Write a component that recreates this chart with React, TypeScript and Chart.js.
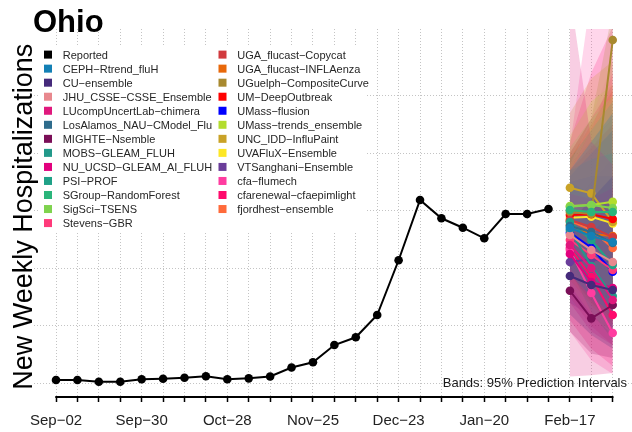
import React, { useEffect, useRef } from 'react';
import { Chart, registerables } from 'chart.js';

Chart.register(...registerables);

// ---------- data ----------
const allWeeks = [0, 1, 2, 3, 4, 5, 6, 7, 8, 9, 10, 11, 12, 13, 14, 15, 16, 17, 18, 19, 20, 21, 22, 23, 24, 25, 26];
const labelWeeks = [0, 4, 8, 12, 16, 20, 24];
const weekTickLabels = ['Sep−02', 'Sep−30', 'Oct−28', 'Nov−25', 'Dec−23', 'Jan−20', 'Feb−17'];
const yGridValues = [0, 500, 1000, 1500, 2000, 2500];

const reportedWeeks = [0, 1, 2, 3, 4, 5, 6, 7, 8, 9, 10, 11, 12, 13, 14, 15, 16, 17, 18, 19, 20, 21, 22, 23];
const reported = [29, 29, 14, 14, 35, 40, 49, 61, 35, 43, 59, 137, 183, 333, 400, 594, 1070, 1594, 1435, 1353, 1261, 1472, 1472, 1516];

const forecastWeeks = [24, 25, 26];

const modelNames = [
  'CEPH−Rtrend_fluH',
  'CU−ensemble',
  'JHU_CSSE−CSSE_Ensemble',
  'LUcompUncertLab−chimera',
  'LosAlamos_NAU−CModel_Flu',
  'MIGHTE−Nsemble',
  'MOBS−GLEAM_FLUH',
  'NU_UCSD−GLEAM_AI_FLUH',
  'PSI−PROF',
  'SGroup−RandomForest',
  'SigSci−TSENS',
  'Stevens−GBR',
  'UGA_flucast−Copycat',
  'UGA_flucast−INFLAenza',
  'UGuelph−CompositeCurve',
  'UM−DeepOutbreak',
  'UMass−flusion',
  'UMass−trends_ensemble',
  'UNC_IDD−InfluPaint',
  'UVAFluX−Ensemble',
  'VTSanghani−Ensemble',
  'cfa−flumech',
  'cfarenewal−cfaepimlight',
  'fjordhest−ensemble',
];

const modelColors = [
  '#1380B5', '#452A7B', '#E8888E', '#E0187D', '#2E6C8C', '#7A0E57',
  '#22998A', '#E2007E', '#1FA187', '#2BB57B', '#7FD34E', '#FF3A7A',
  '#D13A3E', '#E8680A', '#A8892F', '#FF0000', '#0000FF', '#B3DD2E',
  '#C9A227', '#FDE725', '#6A3D9A', '#FF3CA0', '#FF0A6C', '#FF6A3A',
];

const forecastMedian = [
  [1350, 1281, 1229],
  [933, 855, 811],
  [1290, 1159, 1055],
  [1203, 1003, 724],
  [1368, 1316, 1220],
  [805, 565, 681],
  [1333, 1020, 759],
  [1124, 881, 829],
  [1403, 1246, 1029],
  [1507, 1490, 1490],
  [1536, 1550, 1524],
  [1246, 1116, 985],
  [1420, 1359, 1272],
  [1377, 1298, 1281],
  [1490, 1472, 2985],
  [1464, 1470, 1429],
  [1310, 1179, 970],
  [1542, 1550, 1579],
  [1701, 1652, 1403],
  [1440, 1449, 1391],
  [1055, 1081, 1046],
  [1159, 786, 438],
  [1177, 924, 594],
  [1412, 1333, 1177],
];

const forecastLower = [
  [950, 750, 600],
  [600, 420, 300],
  [850, 600, 420],
  [60, 70, 90],
  [1000, 800, 620],
  [450, 260, 220],
  [1000, 620, 380],
  [700, 450, 330],
  [1050, 800, 550],
  [1150, 950, 800],
  [1100, 900, 750],
  [750, 500, 330],
  [950, 700, 520],
  [900, 680, 500],
  [1100, 950, 1200],
  [1150, 1000, 850],
  [950, 720, 480],
  [1050, 850, 700],
  [1200, 900, 600],
  [1050, 850, 700],
  [700, 580, 450],
  [450, 200, 80],
  [550, 300, 150],
  [1000, 750, 550],
];

const forecastUpper = [
  [1850, 2100, 2350],
  [1400, 1600, 1800],
  [1900, 2300, 2800],
  [3400, 2100, 1900],
  [1800, 2000, 2200],
  [1350, 1300, 1500],
  [1750, 1650, 1500],
  [1650, 1600, 1700],
  [1850, 1950, 2000],
  [1950, 2200, 2450],
  [2050, 2300, 2500],
  [1850, 2200, 2700],
  [2000, 2300, 2600],
  [1950, 2250, 2550],
  [2000, 2300, 3250],
  [1850, 2050, 2250],
  [1750, 1800, 1800],
  [2150, 2450, 2600],
  [2350, 2650, 2800],
  [1900, 2200, 2500],
  [1500, 1750, 1950],
  [2050, 3400, 3400],
  [2100, 2700, 3100],
  [1900, 2100, 2300],
];

// ---------- helpers ----------
const FONT = "'Liberation Sans', Arial, Helvetica, sans-serif";

function rgba(hex: string, a: number): string {
  const h = hex.replace('#', '');
  const r = parseInt(h.substring(0, 2), 16);
  const g = parseInt(h.substring(2, 4), 16);
  const b = parseInt(h.substring(4, 6), 16);
  return `rgba(${r},${g},${b},${a})`;
}

const decorPlugin = {
  id: 'decor',
  beforeDatasetsDraw(chart: any) {
    const ctx = chart.ctx as CanvasRenderingContext2D;
    ctx.save();
    // legend box
    ctx.fillStyle = '#ffffff';
    ctx.fillRect(39, 45, 327, 187);
    const entries = [{ name: 'Reported', color: '#000000' }].concat(
      modelNames.map((n, i) => ({ name: n, color: modelColors[i] }))
    );
    ctx.font = `11px ${FONT}`;
    ctx.textAlign = 'left';
    ctx.textBaseline = 'alphabetic';
    entries.forEach((e, i) => {
      const col = i < 13 ? 0 : 1;
      const row = col === 0 ? i : i - 13;
      const sx = col === 0 ? 44 : 218.5;
      const cy = 54.6 + row * 14.04;
      ctx.fillStyle = e.color;
      ctx.fillRect(sx, cy - 4, 8, 8);
      ctx.fillStyle = '#262626';
      ctx.fillText(e.name, sx + 18.7, cy + 4);
    });
    ctx.restore();
  },
  afterDraw(chart: any) {
    const ctx = chart.ctx as CanvasRenderingContext2D;
    const xs = chart.scales.x;
    const area = chart.chartArea;
    ctx.save();
    // bottom axis line spanning first to last tick
    ctx.strokeStyle = '#000';
    ctx.lineWidth = 2;
    ctx.beginPath();
    ctx.moveTo(xs.getPixelForValue(allWeeks[0]) - 0.75, area.bottom);
    ctx.lineTo(xs.getPixelForValue(allWeeks[allWeeks.length - 1]) + 0.75, area.bottom);
    ctx.stroke();
    // title
    ctx.fillStyle = '#000';
    ctx.font = `bold 31px ${FONT}`;
    ctx.textAlign = 'left';
    ctx.textBaseline = 'alphabetic';
    ctx.fillText('Ohio', 33, 32);
    // y title
    ctx.save();
    ctx.translate(31.5, 216.7);
    ctx.rotate(-Math.PI / 2);
    ctx.font = `27px ${FONT}`;
    ctx.textAlign = 'center';
    ctx.fillText('New Weekly Hospitalizations', 0, 0);
    ctx.restore();
    // band note
    ctx.font = `13px ${FONT}`;
    ctx.textAlign = 'right';
    ctx.fillStyle = '#1a1a1a';
    ctx.fillText('Bands: 95% Prediction Intervals', 627, 387.3);
    ctx.restore();
  },
};

export default function App() {
  const ref = useRef<HTMLCanvasElement | null>(null);

  useEffect(() => {
    const canvas = ref.current;
    if (!canvas) return;
    const datasets: any[] = [];
    modelNames.forEach((name, i) => {
      datasets.push({
        label: name + ' lower',
        data: forecastWeeks.map((w, k) => ({ x: w, y: forecastLower[i][k] })),
        borderColor: 'rgba(0,0,0,0)',
        borderWidth: 0,
        pointRadius: 0,
        fill: false,
        order: 3,
      });
      datasets.push({
        label: name + ' upper',
        data: forecastWeeks.map((w, k) => ({ x: w, y: forecastUpper[i][k] })),
        borderColor: 'rgba(0,0,0,0)',
        borderWidth: 0,
        pointRadius: 0,
        backgroundColor: rgba(modelColors[i], 0.21),
        fill: '-1',
        order: 3,
      });
    });
    modelNames.forEach((name, i) => {
      datasets.push({
        label: name,
        data: forecastWeeks.map((w, k) => ({ x: w, y: forecastMedian[i][k] })),
        borderColor: modelColors[i],
        backgroundColor: modelColors[i],
        pointBackgroundColor: modelColors[i],
        pointBorderColor: modelColors[i],
        borderWidth: 2,
        pointRadius: 4.3,
        pointBorderWidth: 0,
        fill: false,
        order: 2,
      });
    });
    datasets.push({
      label: 'Reported',
      data: reportedWeeks.map((w, k) => ({ x: w, y: reported[k] })),
      borderColor: '#000',
      backgroundColor: '#000',
      pointBackgroundColor: '#000',
      pointBorderColor: '#000',
      borderWidth: 2,
      pointRadius: 4.3,
      pointBorderWidth: 0,
      fill: false,
      order: 1,
    });

    Chart.defaults.font.family = FONT;

    const chart = new Chart(canvas, {
      type: 'line',
      data: { datasets },
      options: {
        animation: false,
        responsive: false,
        layout: { autoPadding: false, padding: { left: 34, top: 29, right: 0, bottom: 0 } },
        plugins: {
          legend: { display: false },
          tooltip: { enabled: false },
          title: { display: false },
        },
        scales: {
          x: {
            type: 'linear',
            min: -1.028,
            max: 26.9,
            afterBuildTicks: (s: any) => {
              s.ticks = allWeeks.map((v) => ({ value: v }));
            },
            afterFit: (s: any) => {
              s.height = 35;
            },
            grid: {
              color: '#c4c4c4',
              lineWidth: 1,
              drawTicks: true,
              tickLength: 5,
              tickColor: '#000',
              tickWidth: 1.5,
              tickBorderDash: [],
            },
            border: { display: false, dash: [1, 2] },
            ticks: {
              autoSkip: false,
              maxRotation: 0,
              minRotation: 0,
              padding: 10,
              color: '#222',
              font: { size: 15, family: FONT },
              callback: (v: any) => {
                const idx = labelWeeks.indexOf(Number(v));
                return idx >= 0 ? weekTickLabels[idx] : '';
              },
            },
          },
          y: {
            type: 'linear',
            min: -119,
            max: 3081,
            afterBuildTicks: (s: any) => {
              s.ticks = yGridValues.map((v) => ({ value: v }));
            },
            afterFit: (s: any) => {
              s.width = 0;
            },
            ticks: { display: false },
            grid: { color: '#c4c4c4', lineWidth: 1, drawTicks: false },
            border: { display: false, dash: [1, 2] },
          },
        },
      } as any,
      plugins: [decorPlugin],
    });
    return () => chart.destroy();
  }, []);

  return (
    <div style={{ position: 'fixed', left: 0, top: 0, width: 632, height: 432, background: '#fff' }}>
      <canvas ref={ref} width={632} height={432} style={{ display: 'block', width: 632, height: 432 }} />
    </div>
  );
}
